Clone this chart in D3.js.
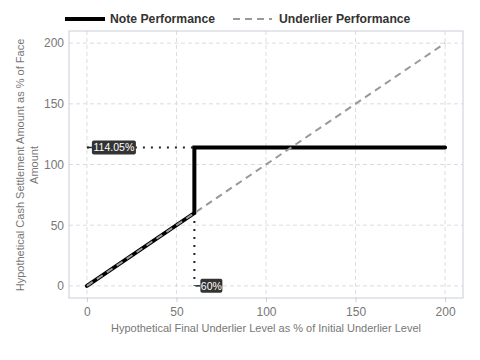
<!DOCTYPE html>
<html><head><meta charset="utf-8">
<script src="https://cdn.jsdelivr.net/npm/d3@7"></script>
<style>body{margin:0;background:#fff}svg{font-family:"Liberation Sans",Arial,sans-serif}</style>
</head><body><svg id="c" width="480" height="360"></svg>
<script>
const xTicks=[0,50,100,150,200];
const yTicks=[0,50,100,150,200];
const noteX=[0,60,60,200];
const noteY=[0,60,114.05,114.05];
const underX=[0,200];
const underY=[0,200];
const capLevel=114.05;
const barrier=60;
const labels=["114.05%","60%"];
const legendNames=["Note Performance","Underlier Performance"];

const svg=d3.select("#c");
const x=d3.scaleLinear().domain([-10,210]).range([69,463]);
const y=d3.scaleLinear().domain([-10,210]).range([298,31]);

// grid
svg.append("g").selectAll("line").data(xTicks).join("line")
 .attr("x1",d=>x(d)).attr("x2",d=>x(d)).attr("y1",31).attr("y2",298)
 .attr("stroke","#dcdcdc").attr("stroke-dasharray","4,3").attr("stroke-width",1);
svg.append("g").selectAll("line").data(yTicks).join("line")
 .attr("y1",d=>y(d)).attr("y2",d=>y(d)).attr("x1",69).attr("x2",463)
 .attr("stroke","#dcdcdc").attr("stroke-dasharray","4,3").attr("stroke-width",1);
svg.append("rect").attr("x",69).attr("y",31).attr("width",394).attr("height",267)
 .attr("fill","none").attr("stroke","#c8ced6").attr("stroke-width",1);

// axes
const xa=svg.append("g").attr("transform","translate(0,298)")
 .call(d3.axisBottom(x).tickValues(xTicks).tickSize(4).tickPadding(5));
xa.select(".domain").remove();
xa.selectAll("line").attr("stroke","#c8ced6");
xa.selectAll("text").attr("fill","#777").attr("font-size",12).attr("font-family","Liberation Sans, Arial");
const ya=svg.append("g").attr("transform","translate(69,0)")
 .call(d3.axisLeft(y).tickValues(yTicks).tickSize(0).tickPadding(5));
ya.select(".domain").remove();
ya.selectAll("text").attr("fill","#777").attr("font-size",12).attr("font-family","Liberation Sans, Arial");

svg.append("text").attr("x",266).attr("y",332).attr("text-anchor","middle")
 .attr("fill","#777").attr("font-size",11).text("Hypothetical Final Underlier Level as % of Initial Underlier Level");
const yt=svg.append("text").attr("transform","translate(24,165) rotate(-90)").attr("text-anchor","middle")
 .attr("fill","#777").attr("font-size",11);
yt.append("tspan").attr("x",0).attr("dy",0).text("Hypothetical Cash Settlement Amount as % of Face");
yt.append("tspan").attr("x",0).attr("dy",14).text("Amount");

// dotted guides
svg.append("line").attr("x1",x(0)).attr("x2",x(barrier)).attr("y1",y(capLevel)).attr("y2",y(capLevel))
 .attr("stroke","#1a2433").attr("stroke-width",2).attr("stroke-dasharray","2,6");
svg.append("line").attr("x1",x(barrier)).attr("x2",x(barrier)).attr("y1",y(barrier)).attr("y2",y(0))
 .attr("stroke","#1a2433").attr("stroke-width",2).attr("stroke-dasharray","2,6");

const line=d3.line().x(d=>x(d[0])).y(d=>y(d[1]));
svg.append("path").attr("d",line(noteX.map((v,i)=>[v,noteY[i]])))
 .attr("fill","none").attr("stroke","#000").attr("stroke-width",4).attr("stroke-linecap","round").attr("stroke-linejoin","miter");
svg.append("path").attr("d",line(underX.map((v,i)=>[v,underY[i]])))
 .attr("fill","none").attr("stroke","#999").attr("stroke-width",2).attr("stroke-dasharray","7,5");

// labels
function lab(px,py,t,w){
  svg.append("line").attr("x1",px-5).attr("x2",px).attr("y1",py).attr("y2",py).attr("stroke","#222").attr("stroke-width",1.5);
  svg.append("rect").attr("x",px).attr("y",py-7).attr("width",w).attr("height",14).attr("rx",2).attr("fill","#333");
  svg.append("text").attr("x",px+w/2).attr("y",py+4).attr("text-anchor","middle").attr("fill","#fff").attr("font-size",10.5).text(t);
}
lab(x(0)+5,y(capLevel),labels[0],44);
lab(x(barrier)+6,y(0),labels[1],22);

// legend
const lg=svg.append("g");
lg.append("line").attr("x1",65).attr("x2",105).attr("y1",19).attr("y2",19).attr("stroke","#000").attr("stroke-width",4);
lg.append("text").attr("x",110).attr("y",23).attr("font-weight","bold").attr("font-size",12.2).attr("fill","#333").text(legendNames[0]);
lg.append("line").attr("x1",233).attr("x2",272).attr("y1",19).attr("y2",19).attr("stroke","#999").attr("stroke-width",2).attr("stroke-dasharray","7,5");
lg.append("text").attr("x",279).attr("y",23).attr("font-weight","bold").attr("font-size",12.2).attr("fill","#333").text(legendNames[1]);
</script></body></html>
